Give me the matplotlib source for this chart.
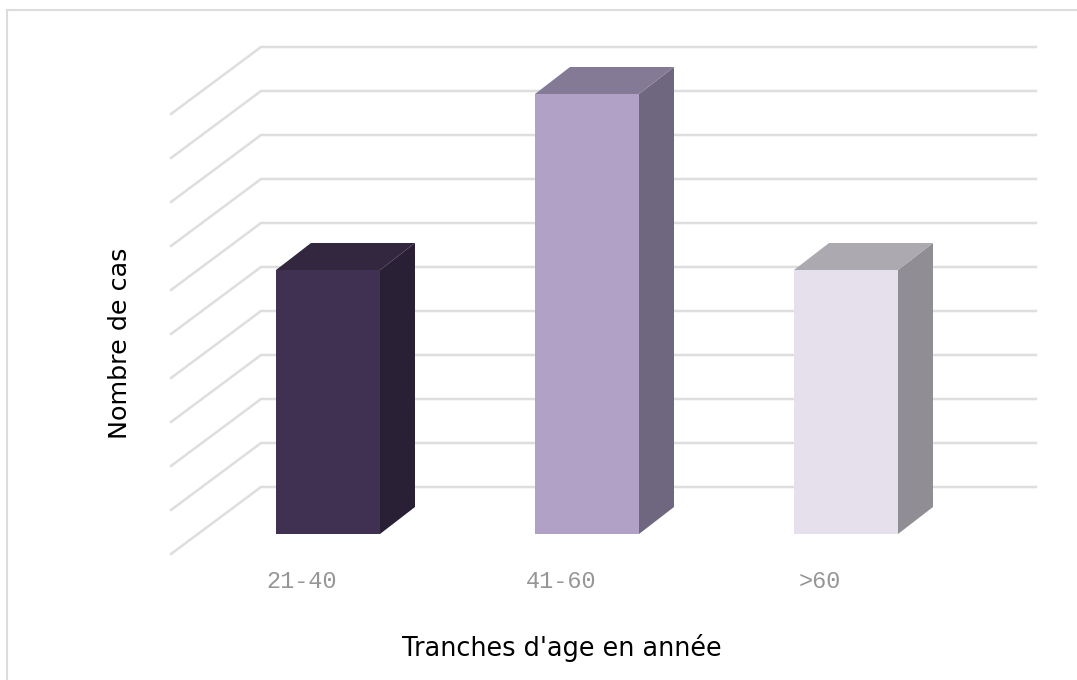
import matplotlib.pyplot as plt
from matplotlib.patches import Rectangle

# Donnees du graphique
categories = ["21-40", "41-60", ">60"]
valeurs = [6, 10, 6]
graduations = [0, 1, 2, 3, 4, 5, 6, 7, 8, 9, 10]

# Couleurs des barres (face, cote, dessus)
faces = ["#403152", "#b2a1c7", "#e6e0ec"]
cotes = ["#2a2036", "#6f6780", "#908d94"]
dessus = ["#33273f", "#857a96", "#aca9b1"]

# Echelle en pixels
px_cat = 259  # pixels par categorie
px_val = 44  # pixels par unite
x0_px = 328  # centre de la premiere barre
y0_px = 534  # base des barres

largeur = 104 / px_cat
prof_x = 35 / px_cat  # profondeur de la barre
prof_y = 27 / px_val
fond_x = (261 - x0_px) / px_cat  # grille, plan du fond
fin_x = (1036 - x0_px) / px_cat
avant_dx = 90 / px_cat
avant_dy = 67 / px_val
fond_base = (y0_px - 487) / px_val

fig = plt.figure(figsize=(10.77, 6.80), dpi=100)
ax = fig.add_axes([0, 0, 1, 1])
ax.set_xlim(-x0_px / px_cat, (1077 - x0_px) / px_cat)
ax.set_ylim((y0_px - 680) / px_val, y0_px / px_val)
ax.axis("off")

# Cadre
fig.add_artist(Rectangle((7.4 / 1077, -0.1), 1.2, 1.1 - 10.5 / 680,
                         transform=fig.transFigure, fill=False,
                         edgecolor="#dcdcdc", linewidth=1.5))

# Grille
for g in graduations:
    y = fond_base + g
    ax.plot([fond_x - avant_dx, fond_x, fin_x], [y - avant_dy, y, y],
            color="#dedede", linewidth=1.8, zorder=1, solid_joinstyle="miter")

# Barres
for i, v in enumerate(valeurs):
    g = i - largeur / 2
    d = i + largeur / 2
    ax.bar(i, v, width=largeur, color=faces[i], edgecolor="none", zorder=3)
    ax.fill([d, d + prof_x, d + prof_x, d], [0, prof_y, v + prof_y, v],
            facecolor=cotes[i], edgecolor="none", zorder=2)
    ax.fill([g, g + prof_x, d + prof_x, d], [v, v + prof_y, v + prof_y, v],
            facecolor=dessus[i], edgecolor="none", zorder=2)
    ax.text(i - 26 / px_cat, -48 / px_val, categories[i], family="Liberation Mono",
            fontsize=16.9, color="#969696", ha="center", va="center")

ax.text((120 - x0_px) / px_cat, (y0_px - 343) / px_val, "Nombre de cas", rotation=90,
        fontsize=18.3, color="black", ha="center", va="center")
ax.text((562 - x0_px) / px_cat, (y0_px - 648) / px_val, "Tranches d'age en année",
        fontsize=18.4, color="black", ha="center", va="center")

fig.savefig("out.png", dpi=100)
